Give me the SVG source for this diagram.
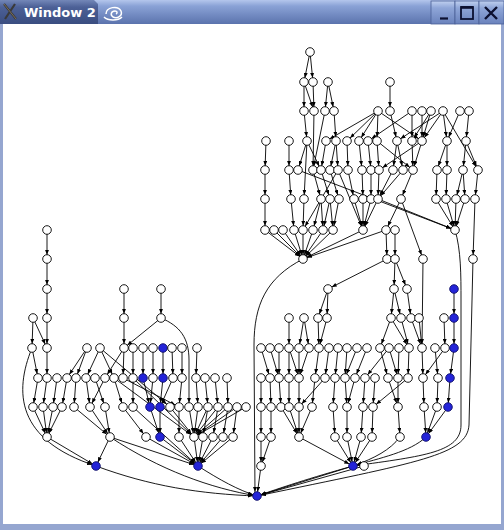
<svg xmlns="http://www.w3.org/2000/svg" width="504" height="530" viewBox="0 0 504 530">
<defs>
<linearGradient id="tb" x1="0" y1="0" x2="0" y2="1">
<stop offset="0" stop-color="#b4c6ec"/><stop offset="0.25" stop-color="#8aa2d6"/><stop offset="1" stop-color="#5b73ad"/>
</linearGradient>
<linearGradient id="tab" x1="0" y1="0" x2="0" y2="1">
<stop offset="0" stop-color="#7387b8"/><stop offset="0.3" stop-color="#4c6096"/><stop offset="1" stop-color="#3a4d80"/>
</linearGradient>
<linearGradient id="btn" x1="0" y1="0" x2="0" y2="1">
<stop offset="0" stop-color="#c0d0f0"/><stop offset="0.3" stop-color="#8fa6d8"/><stop offset="1" stop-color="#6a82bc"/>
</linearGradient>
<marker id="a" markerWidth="5" markerHeight="4" refX="9.2" refY="2" orient="auto" markerUnits="userSpaceOnUse"><path d="M0,0 L5,2 L0,4 z" fill="#000"/></marker>
<style>
.edges line,.edges path{stroke:#000;stroke-width:0.9;fill:none;marker-end:url(#a)}
.nodes circle{fill:#fff;stroke:#000;stroke-width:0.9}
.nodes circle.b{fill:#2424d8;stroke:#10106a}
.ttl{font-family:"DejaVu Sans",sans-serif;font-weight:bold;font-size:13px;fill:#fff}
</style>
</defs>
<rect x="0" y="0" width="504" height="530" fill="#95a6d0"/>
<rect x="3" y="24" width="498" height="500" fill="#fff"/>
<g id="titlebar">
<rect x="0" y="0" width="504" height="24" fill="url(#tb)"/>
<path d="M0,0 H94 L98,4 V24 H0 Z" fill="url(#tab)"/>
<path d="M4,4 L16,19 M15,4 L5,19" stroke="#3a3a3a" stroke-width="2.2"/>
<path d="M4,4 L16,19" stroke="#8a7a60" stroke-width="0.8"/>
<text class="ttl" x="24" y="17">Window 2</text>
<g fill="none" stroke="#fff" stroke-width="1.5">
<path d="M106,14 C106,7 118,5 121,11 C123,16 117,19 113,17 C110,15 111,11 115,11 C117,11 118,13 116,14"/>
<path d="M104,17 C108,21 118,21 122,17"/>
</g>
<rect x="431" y="1" width="24" height="23" fill="url(#btn)" stroke="#4a5f96" stroke-width="0.8"/>
<rect x="455" y="1" width="24" height="23" fill="url(#btn)" stroke="#4a5f96" stroke-width="0.8"/>
<rect x="479" y="1" width="25" height="23" fill="url(#btn)" stroke="#4a5f96" stroke-width="0.8"/>
<path d="M440,18.5 H448" stroke="#0c1030" stroke-width="2.2"/>
<rect x="461" y="7" width="12" height="12" fill="none" stroke="#0c1030" stroke-width="1.8"/>
<path d="M461,7.5 H473" stroke="#0c1030" stroke-width="2.6"/>
<path d="M485,7 L497,19 M497,7 L485,19" stroke="#0c1030" stroke-width="2.4"/>
</g>
<g id="connectors" class="edges">
<line x1="310" y1="52" x2="304" y2="82"/><line x1="310" y1="52" x2="313" y2="82"/>
<line x1="304" y1="82" x2="304" y2="111"/><line x1="304" y1="82" x2="314" y2="111"/><line x1="313" y1="82" x2="314" y2="111"/>
<line x1="328" y1="82" x2="325" y2="111"/><line x1="328" y1="82" x2="334" y2="111"/><line x1="390" y1="82" x2="390" y2="111"/>
<line x1="304" y1="111" x2="307" y2="141"/><line x1="314" y1="111" x2="313" y2="170"/><line x1="325" y1="111" x2="313" y2="170"/><line x1="334" y1="111" x2="336" y2="141"/>
<line x1="378" y1="111" x2="347" y2="141"/><line x1="378" y1="111" x2="359" y2="141"/><line x1="378" y1="111" x2="377" y2="141"/><line x1="378" y1="111" x2="422" y2="141"/><line x1="378" y1="111" x2="326" y2="141"/>
<line x1="390" y1="111" x2="397" y2="141"/><line x1="412" y1="111" x2="412" y2="141"/><line x1="422" y1="111" x2="422" y2="141"/><line x1="431" y1="111" x2="422" y2="141"/><line x1="431" y1="111" x2="412" y2="141"/>
<line x1="443" y1="111" x2="422" y2="141"/><line x1="443" y1="111" x2="447" y2="141"/><line x1="443" y1="111" x2="397" y2="141"/><line x1="412" y1="111" x2="368" y2="141"/>
<line x1="460" y1="111" x2="447" y2="141"/><line x1="469" y1="111" x2="466" y2="141"/><line x1="443" y1="111" x2="478" y2="170"/>
<line x1="266" y1="141" x2="265" y2="170"/><line x1="289" y1="141" x2="289" y2="170"/><line x1="307" y1="141" x2="298" y2="170"/><line x1="307" y1="141" x2="321" y2="170"/>
<line x1="326" y1="141" x2="321" y2="170"/><line x1="336" y1="141" x2="330" y2="170"/><line x1="336" y1="141" x2="338" y2="170"/><line x1="347" y1="141" x2="348" y2="170"/>
<line x1="359" y1="141" x2="362" y2="170"/><line x1="368" y1="141" x2="371" y2="170"/><line x1="377" y1="141" x2="379" y2="170"/><line x1="397" y1="141" x2="393" y2="170"/><line x1="397" y1="141" x2="403" y2="170"/>
<line x1="412" y1="141" x2="413" y2="170"/><line x1="422" y1="141" x2="413" y2="170"/><line x1="422" y1="141" x2="379" y2="170"/><line x1="447" y1="141" x2="437" y2="170"/><line x1="447" y1="141" x2="447" y2="170"/>
<line x1="466" y1="141" x2="463" y2="170"/><line x1="466" y1="141" x2="478" y2="170"/><line x1="377" y1="141" x2="413" y2="170"/>
<line x1="298" y1="170" x2="455" y2="230"/><line x1="307" y1="141" x2="304" y2="199"/>
<line x1="265" y1="170" x2="265" y2="199"/><line x1="289" y1="170" x2="291" y2="199"/><line x1="313" y1="170" x2="321" y2="199"/><line x1="321" y1="170" x2="330" y2="199"/>
<line x1="330" y1="170" x2="339" y2="199"/><line x1="338" y1="170" x2="363" y2="230"/><line x1="348" y1="170" x2="354" y2="199"/><line x1="362" y1="170" x2="363" y2="199"/>
<line x1="371" y1="170" x2="371" y2="199"/><line x1="379" y1="170" x2="378" y2="199"/><line x1="393" y1="170" x2="378" y2="199"/><line x1="403" y1="170" x2="378" y2="199"/><line x1="413" y1="170" x2="401" y2="199"/>
<line x1="437" y1="170" x2="436" y2="199"/><line x1="447" y1="170" x2="446" y2="199"/><line x1="463" y1="170" x2="456" y2="199"/><line x1="463" y1="170" x2="465" y2="199"/><line x1="478" y1="170" x2="475" y2="199"/>
<line x1="378" y1="199" x2="455" y2="230"/><line x1="338" y1="170" x2="303" y2="230"/>
<line x1="265" y1="199" x2="265" y2="230"/><line x1="291" y1="199" x2="294" y2="230"/><line x1="304" y1="199" x2="303" y2="230"/><line x1="321" y1="199" x2="313" y2="230"/><line x1="321" y1="199" x2="323" y2="230"/>
<line x1="330" y1="199" x2="323" y2="230"/><line x1="330" y1="199" x2="333" y2="230"/><line x1="339" y1="199" x2="333" y2="230"/><line x1="354" y1="199" x2="363" y2="230"/><line x1="363" y1="199" x2="363" y2="230"/>
<line x1="371" y1="199" x2="363" y2="230"/><line x1="378" y1="199" x2="363" y2="230"/><line x1="401" y1="199" x2="386" y2="230"/><line x1="401" y1="199" x2="423" y2="259"/>
<line x1="436" y1="199" x2="455" y2="230"/><line x1="446" y1="199" x2="455" y2="230"/><line x1="456" y1="199" x2="455" y2="230"/><line x1="465" y1="199" x2="455" y2="230"/><line x1="475" y1="199" x2="473" y2="259"/>
<line x1="265" y1="230" x2="303" y2="259"/><line x1="274" y1="230" x2="303" y2="259"/><line x1="283" y1="230" x2="303" y2="259"/><line x1="294" y1="230" x2="303" y2="259"/><line x1="303" y1="230" x2="303" y2="259"/>
<line x1="313" y1="230" x2="303" y2="259"/><line x1="323" y1="230" x2="303" y2="259"/><line x1="333" y1="230" x2="303" y2="259"/><line x1="363" y1="230" x2="303" y2="259"/><line x1="386" y1="230" x2="303" y2="259"/>
<line x1="386" y1="230" x2="387" y2="259"/><line x1="395" y1="230" x2="395" y2="259"/>
<path d="M303,259 C266,278 254,305 254,345 L255,496"/>
<path d="M473,259 L469,425 C467,455 420,462 257,496"/>
<path d="M455,230 C461,250 461,275 461,300 L461,425 C461,452 425,456 353,466"/>
<line x1="423" y1="259" x2="422" y2="348"/>
<line x1="387" y1="259" x2="328" y2="289"/><line x1="395" y1="259" x2="394" y2="289"/><line x1="395" y1="259" x2="407" y2="289"/>
<line x1="328" y1="289" x2="318" y2="318"/><line x1="328" y1="289" x2="327" y2="318"/><line x1="394" y1="289" x2="391" y2="318"/><line x1="394" y1="289" x2="401" y2="318"/><line x1="407" y1="289" x2="411" y2="318"/><line x1="454" y1="289" x2="454" y2="318"/>
<line x1="289" y1="318" x2="289" y2="348"/><line x1="304" y1="318" x2="299" y2="348"/><line x1="304" y1="318" x2="309" y2="348"/><line x1="318" y1="318" x2="319" y2="348"/><line x1="327" y1="318" x2="319" y2="348"/>
<line x1="391" y1="318" x2="380" y2="348"/><line x1="391" y1="318" x2="409" y2="348"/><line x1="401" y1="318" x2="409" y2="348"/><line x1="411" y1="318" x2="422" y2="348"/><line x1="419" y1="318" x2="422" y2="348"/>
<line x1="444" y1="318" x2="445" y2="348"/><line x1="454" y1="318" x2="454" y2="348"/>
<line x1="261" y1="348" x2="270" y2="378"/><line x1="270" y1="348" x2="279" y2="378"/><line x1="279" y1="348" x2="279" y2="378"/><line x1="289" y1="348" x2="289" y2="378"/><line x1="289" y1="348" x2="299" y2="378"/>
<line x1="299" y1="348" x2="299" y2="378"/><line x1="309" y1="348" x2="299" y2="378"/><line x1="319" y1="348" x2="315" y2="378"/><line x1="329" y1="348" x2="325" y2="378"/><line x1="338" y1="348" x2="335" y2="378"/>
<line x1="347" y1="348" x2="345" y2="378"/><line x1="357" y1="348" x2="345" y2="378"/><line x1="367" y1="348" x2="355" y2="378"/><line x1="380" y1="348" x2="388" y2="378"/><line x1="389" y1="348" x2="398" y2="378"/>
<line x1="399" y1="348" x2="398" y2="378"/><line x1="409" y1="348" x2="408" y2="378"/><line x1="422" y1="348" x2="423" y2="378"/><line x1="435" y1="348" x2="438" y2="378"/><line x1="445" y1="348" x2="423" y2="378"/><line x1="454" y1="348" x2="450" y2="378"/>
<line x1="389" y1="348" x2="365" y2="378"/>
<line x1="261" y1="378" x2="261" y2="407"/><line x1="270" y1="378" x2="271" y2="407"/><line x1="279" y1="378" x2="281" y2="407"/><line x1="289" y1="378" x2="289" y2="407"/><line x1="299" y1="378" x2="299" y2="407"/>
<line x1="315" y1="378" x2="312" y2="407"/><line x1="325" y1="378" x2="299" y2="407"/><line x1="335" y1="378" x2="333" y2="407"/><line x1="345" y1="378" x2="347" y2="407"/><line x1="355" y1="378" x2="347" y2="407"/>
<line x1="365" y1="378" x2="363" y2="407"/><line x1="375" y1="378" x2="373" y2="407"/><line x1="388" y1="378" x2="398" y2="407"/><line x1="398" y1="378" x2="398" y2="407"/><line x1="408" y1="378" x2="373" y2="407"/>
<line x1="423" y1="378" x2="424" y2="407"/><line x1="438" y1="378" x2="437" y2="407"/><line x1="450" y1="378" x2="448" y2="407"/>
<line x1="261" y1="407" x2="261" y2="437"/><line x1="271" y1="407" x2="271" y2="437"/><line x1="281" y1="407" x2="299" y2="437"/><line x1="289" y1="407" x2="299" y2="437"/><line x1="299" y1="407" x2="299" y2="437"/><line x1="312" y1="407" x2="299" y2="437"/>
<line x1="333" y1="407" x2="335" y2="437"/><line x1="347" y1="407" x2="347" y2="437"/><line x1="363" y1="407" x2="361" y2="437"/><line x1="373" y1="407" x2="372" y2="437"/><line x1="398" y1="407" x2="400" y2="437"/>
<line x1="424" y1="407" x2="426" y2="437"/><line x1="437" y1="407" x2="426" y2="437"/><line x1="448" y1="407" x2="426" y2="437"/>
<line x1="261" y1="437" x2="261" y2="466"/><line x1="271" y1="437" x2="261" y2="466"/>
<line x1="299" y1="437" x2="353" y2="466"/><line x1="335" y1="437" x2="353" y2="466"/><line x1="347" y1="437" x2="353" y2="466"/><line x1="361" y1="437" x2="353" y2="466"/><line x1="372" y1="437" x2="353" y2="466"/>
<path d="M400,437 C390,450 375,458 353,466"/><path d="M426,437 C410,452 380,458 353,466"/>
<line x1="261" y1="466" x2="257" y2="496"/><line x1="353" y1="466" x2="257" y2="496"/><path d="M353,466 C310,478 280,488 257,496"/><line x1="364" y1="466" x2="257" y2="496"/>
<line x1="47" y1="230" x2="47" y2="259"/><line x1="47" y1="259" x2="47" y2="289"/><line x1="47" y1="289" x2="47" y2="318"/><line x1="47" y1="318" x2="47" y2="348"/>
<line x1="33" y1="318" x2="32" y2="348"/><line x1="33" y1="318" x2="47" y2="348"/>
<line x1="124" y1="289" x2="124" y2="318"/><line x1="124" y1="318" x2="124" y2="348"/><line x1="161" y1="289" x2="161" y2="318"/><line x1="161" y1="318" x2="124" y2="348"/>
<path d="M161,318 C180,326 189,338 189,360 L189,407"/>
<path d="M32,348 C14,392 16,440 96,466"/>
<line x1="32" y1="348" x2="38" y2="378"/><line x1="47" y1="348" x2="47" y2="378"/><line x1="87" y1="348" x2="76" y2="378"/><line x1="100" y1="348" x2="86" y2="378"/><line x1="100" y1="348" x2="114" y2="378"/>
<line x1="100" y1="348" x2="170" y2="407"/><line x1="124" y1="348" x2="123" y2="378"/><line x1="124" y1="348" x2="105" y2="378"/><line x1="133" y1="348" x2="133" y2="378"/><line x1="143" y1="348" x2="143" y2="378"/>
<line x1="153" y1="348" x2="153" y2="378"/><line x1="163" y1="348" x2="163" y2="378"/><line x1="172" y1="348" x2="173" y2="378"/><line x1="182" y1="348" x2="182" y2="378"/><line x1="197" y1="348" x2="196" y2="378"/><line x1="87" y1="348" x2="67" y2="378"/>
<line x1="38" y1="378" x2="33" y2="407"/><line x1="47" y1="378" x2="43" y2="407"/><line x1="57" y1="378" x2="53" y2="407"/><line x1="67" y1="378" x2="62" y2="407"/><line x1="76" y1="378" x2="74" y2="407"/>
<line x1="86" y1="378" x2="90" y2="407"/><line x1="105" y1="378" x2="90" y2="407"/><line x1="95" y1="378" x2="105" y2="407"/><line x1="114" y1="378" x2="123" y2="407"/><line x1="133" y1="378" x2="133" y2="407"/>
<line x1="143" y1="378" x2="150" y2="407"/><line x1="153" y1="378" x2="150" y2="407"/><line x1="163" y1="378" x2="160" y2="407"/><line x1="173" y1="378" x2="160" y2="407"/><line x1="182" y1="378" x2="179" y2="407"/>
<line x1="196" y1="378" x2="198" y2="407"/><line x1="205" y1="378" x2="208" y2="407"/><line x1="215" y1="378" x2="218" y2="407"/><line x1="227" y1="378" x2="228" y2="407"/>
<line x1="114" y1="378" x2="194" y2="437"/><line x1="133" y1="378" x2="194" y2="437"/><line x1="123" y1="378" x2="179" y2="407"/>
<line x1="33" y1="407" x2="47" y2="437"/><line x1="43" y1="407" x2="47" y2="437"/><line x1="53" y1="407" x2="47" y2="437"/><line x1="62" y1="407" x2="47" y2="437"/>
<line x1="74" y1="407" x2="110" y2="437"/><line x1="90" y1="407" x2="110" y2="437"/><line x1="105" y1="407" x2="110" y2="437"/><line x1="123" y1="407" x2="146" y2="437"/>
<line x1="150" y1="407" x2="160" y2="437"/><line x1="160" y1="407" x2="160" y2="437"/><line x1="179" y1="407" x2="179" y2="437"/>
<line x1="170" y1="407" x2="194" y2="437"/><line x1="189" y1="407" x2="194" y2="437"/><line x1="198" y1="407" x2="194" y2="437"/><line x1="208" y1="407" x2="194" y2="437"/><line x1="218" y1="407" x2="194" y2="437"/>
<line x1="228" y1="407" x2="194" y2="437"/><line x1="237" y1="407" x2="194" y2="437"/><line x1="246" y1="407" x2="194" y2="437"/>
<line x1="208" y1="407" x2="203" y2="437"/><line x1="218" y1="407" x2="213" y2="437"/><line x1="228" y1="407" x2="223" y2="437"/><line x1="237" y1="407" x2="233" y2="437"/>
<line x1="133" y1="407" x2="198" y2="466"/>
<line x1="47" y1="437" x2="96" y2="466"/><line x1="110" y1="437" x2="96" y2="466"/><line x1="110" y1="437" x2="198" y2="466"/>
<line x1="146" y1="437" x2="198" y2="466"/><line x1="160" y1="437" x2="198" y2="466"/><line x1="179" y1="437" x2="198" y2="466"/><line x1="194" y1="437" x2="198" y2="466"/><line x1="203" y1="437" x2="198" y2="466"/>
<line x1="213" y1="437" x2="198" y2="466"/><line x1="223" y1="437" x2="198" y2="466"/><line x1="233" y1="437" x2="198" y2="466"/>
<path d="M96,466 C150,486 200,494 257,496"/>
<path d="M198,466 C220,480 238,490 257,496"/>
<path d="M110,437 C160,470 210,488 257,496"/>
</g>
<g class="nodes">
<g id="t01"><circle cx="310" cy="52" r="4.3"/></g>
<g id="t02"><circle cx="304" cy="82" r="4.3"/></g>
<g id="t03"><circle cx="313" cy="82" r="4.3"/></g>
<g id="t04"><circle cx="328" cy="82" r="4.3"/></g>
<g id="t05"><circle cx="390" cy="82" r="4.3"/></g>
<g id="t06"><circle cx="304" cy="111" r="4.3"/></g>
<g id="t07"><circle cx="314" cy="111" r="4.3"/></g>
<g id="t08"><circle cx="325" cy="111" r="4.3"/></g>
<g id="t09"><circle cx="334" cy="111" r="4.3"/></g>
<g id="t10"><circle cx="378" cy="111" r="4.3"/></g>
<g id="t11"><circle cx="390" cy="111" r="4.3"/></g>
<g id="t12"><circle cx="412" cy="111" r="4.3"/></g>
<g id="t13"><circle cx="422" cy="111" r="4.3"/></g>
<g id="t14"><circle cx="431" cy="111" r="4.3"/></g>
<g id="t15"><circle cx="443" cy="111" r="4.3"/></g>
<g id="t16"><circle cx="460" cy="111" r="4.3"/></g>
<g id="t17"><circle cx="469" cy="111" r="4.3"/></g>
<g id="t18"><circle cx="266" cy="141" r="4.3"/></g>
<g id="t19"><circle cx="289" cy="141" r="4.3"/></g>
<g id="t20"><circle cx="307" cy="141" r="4.3"/></g>
<g id="t21"><circle cx="326" cy="141" r="4.3"/></g>
<g id="t22"><circle cx="336" cy="141" r="4.3"/></g>
<g id="t23"><circle cx="347" cy="141" r="4.3"/></g>
<g id="t24"><circle cx="359" cy="141" r="4.3"/></g>
<g id="t25"><circle cx="368" cy="141" r="4.3"/></g>
<g id="t26"><circle cx="377" cy="141" r="4.3"/></g>
<g id="t27"><circle cx="397" cy="141" r="4.3"/></g>
<g id="t28"><circle cx="412" cy="141" r="4.3"/></g>
<g id="t29"><circle cx="422" cy="141" r="4.3"/></g>
<g id="t30"><circle cx="447" cy="141" r="4.3"/></g>
<g id="t31"><circle cx="466" cy="141" r="4.3"/></g>
<g id="t32"><circle cx="265" cy="170" r="4.3"/></g>
<g id="t33"><circle cx="289" cy="170" r="4.3"/></g>
<g id="t34"><circle cx="298" cy="170" r="4.3"/></g>
<g id="t35"><circle cx="313" cy="170" r="4.3"/></g>
<g id="t36"><circle cx="321" cy="170" r="4.3"/></g>
<g id="t37"><circle cx="330" cy="170" r="4.3"/></g>
<g id="t38"><circle cx="338" cy="170" r="4.3"/></g>
<g id="t39"><circle cx="348" cy="170" r="4.3"/></g>
<g id="t40"><circle cx="362" cy="170" r="4.3"/></g>
<g id="t41"><circle cx="371" cy="170" r="4.3"/></g>
<g id="t42"><circle cx="379" cy="170" r="4.3"/></g>
<g id="t43"><circle cx="393" cy="170" r="4.3"/></g>
<g id="t44"><circle cx="403" cy="170" r="4.3"/></g>
<g id="t45"><circle cx="413" cy="170" r="4.3"/></g>
<g id="t46"><circle cx="437" cy="170" r="4.3"/></g>
<g id="t47"><circle cx="447" cy="170" r="4.3"/></g>
<g id="t48"><circle cx="463" cy="170" r="4.3"/></g>
<g id="t49"><circle cx="478" cy="170" r="4.3"/></g>
<g id="t50"><circle cx="265" cy="199" r="4.3"/></g>
<g id="t51"><circle cx="291" cy="199" r="4.3"/></g>
<g id="t52"><circle cx="304" cy="199" r="4.3"/></g>
<g id="t53"><circle cx="321" cy="199" r="4.3"/></g>
<g id="t54"><circle cx="330" cy="199" r="4.3"/></g>
<g id="t55"><circle cx="339" cy="199" r="4.3"/></g>
<g id="t56"><circle cx="354" cy="199" r="4.3"/></g>
<g id="t57"><circle cx="363" cy="199" r="4.3"/></g>
<g id="t58"><circle cx="371" cy="199" r="4.3"/></g>
<g id="t59"><circle cx="378" cy="199" r="4.3"/></g>
<g id="t60"><circle cx="401" cy="199" r="4.3"/></g>
<g id="t61"><circle cx="436" cy="199" r="4.3"/></g>
<g id="t62"><circle cx="446" cy="199" r="4.3"/></g>
<g id="t63"><circle cx="456" cy="199" r="4.3"/></g>
<g id="t64"><circle cx="465" cy="199" r="4.3"/></g>
<g id="t65"><circle cx="475" cy="199" r="4.3"/></g>
<g id="t66"><circle cx="265" cy="230" r="4.3"/></g>
<g id="t67"><circle cx="274" cy="230" r="4.3"/></g>
<g id="t68"><circle cx="283" cy="230" r="4.3"/></g>
<g id="t69"><circle cx="294" cy="230" r="4.3"/></g>
<g id="t70"><circle cx="303" cy="230" r="4.3"/></g>
<g id="t71"><circle cx="313" cy="230" r="4.3"/></g>
<g id="t72"><circle cx="323" cy="230" r="4.3"/></g>
<g id="t73"><circle cx="333" cy="230" r="4.3"/></g>
<g id="t74"><circle cx="363" cy="230" r="4.3"/></g>
<g id="t75"><circle cx="386" cy="230" r="4.3"/></g>
<g id="t76"><circle cx="395" cy="230" r="4.3"/></g>
<g id="t77"><circle cx="455" cy="230" r="4.3"/></g>
<g id="t78"><circle cx="303" cy="259" r="4.3"/></g>
<g id="t79"><circle cx="387" cy="259" r="4.3"/></g>
<g id="t80"><circle cx="395" cy="259" r="4.3"/></g>
<g id="t81"><circle cx="423" cy="259" r="4.3"/></g>
<g id="t82"><circle cx="473" cy="259" r="4.3"/></g>
<g id="m01"><circle cx="328" cy="289" r="4.3"/></g>
<g id="m02"><circle cx="394" cy="289" r="4.3"/></g>
<g id="m03"><circle cx="407" cy="289" r="4.3"/></g>
<g id="m04"><circle class="b" cx="454" cy="289" r="4.3"/></g>
<g id="m05"><circle cx="289" cy="318" r="4.3"/></g>
<g id="m06"><circle cx="304" cy="318" r="4.3"/></g>
<g id="m07"><circle cx="318" cy="318" r="4.3"/></g>
<g id="m08"><circle cx="327" cy="318" r="4.3"/></g>
<g id="m09"><circle cx="391" cy="318" r="4.3"/></g>
<g id="m10"><circle cx="401" cy="318" r="4.3"/></g>
<g id="m11"><circle cx="411" cy="318" r="4.3"/></g>
<g id="m12"><circle cx="419" cy="318" r="4.3"/></g>
<g id="m13"><circle cx="444" cy="318" r="4.3"/></g>
<g id="m14"><circle class="b" cx="454" cy="318" r="4.3"/></g>
<g id="m15"><circle cx="261" cy="348" r="4.3"/></g>
<g id="m16"><circle cx="270" cy="348" r="4.3"/></g>
<g id="m17"><circle cx="279" cy="348" r="4.3"/></g>
<g id="m18"><circle cx="289" cy="348" r="4.3"/></g>
<g id="m19"><circle cx="299" cy="348" r="4.3"/></g>
<g id="m20"><circle cx="309" cy="348" r="4.3"/></g>
<g id="m21"><circle cx="319" cy="348" r="4.3"/></g>
<g id="m22"><circle cx="329" cy="348" r="4.3"/></g>
<g id="m23"><circle cx="338" cy="348" r="4.3"/></g>
<g id="m24"><circle cx="347" cy="348" r="4.3"/></g>
<g id="m25"><circle cx="357" cy="348" r="4.3"/></g>
<g id="m26"><circle cx="367" cy="348" r="4.3"/></g>
<g id="m27"><circle cx="380" cy="348" r="4.3"/></g>
<g id="m28"><circle cx="389" cy="348" r="4.3"/></g>
<g id="m29"><circle cx="399" cy="348" r="4.3"/></g>
<g id="m30"><circle cx="409" cy="348" r="4.3"/></g>
<g id="m31"><circle cx="422" cy="348" r="4.3"/></g>
<g id="m32"><circle cx="435" cy="348" r="4.3"/></g>
<g id="m33"><circle cx="445" cy="348" r="4.3"/></g>
<g id="m34"><circle class="b" cx="454" cy="348" r="4.3"/></g>
<g id="m35"><circle cx="261" cy="378" r="4.3"/></g>
<g id="m36"><circle cx="270" cy="378" r="4.3"/></g>
<g id="m37"><circle cx="279" cy="378" r="4.3"/></g>
<g id="m38"><circle cx="289" cy="378" r="4.3"/></g>
<g id="m39"><circle cx="299" cy="378" r="4.3"/></g>
<g id="m40"><circle cx="315" cy="378" r="4.3"/></g>
<g id="m41"><circle cx="325" cy="378" r="4.3"/></g>
<g id="m42"><circle cx="335" cy="378" r="4.3"/></g>
<g id="m43"><circle cx="345" cy="378" r="4.3"/></g>
<g id="m44"><circle cx="355" cy="378" r="4.3"/></g>
<g id="m45"><circle cx="365" cy="378" r="4.3"/></g>
<g id="m46"><circle cx="375" cy="378" r="4.3"/></g>
<g id="m47"><circle cx="388" cy="378" r="4.3"/></g>
<g id="m48"><circle cx="398" cy="378" r="4.3"/></g>
<g id="m49"><circle cx="408" cy="378" r="4.3"/></g>
<g id="m50"><circle cx="423" cy="378" r="4.3"/></g>
<g id="m51"><circle cx="438" cy="378" r="4.3"/></g>
<g id="m52"><circle class="b" cx="450" cy="378" r="4.3"/></g>
<g id="m53"><circle cx="261" cy="407" r="4.3"/></g>
<g id="m54"><circle cx="271" cy="407" r="4.3"/></g>
<g id="m55"><circle cx="281" cy="407" r="4.3"/></g>
<g id="m56"><circle cx="289" cy="407" r="4.3"/></g>
<g id="m57"><circle cx="299" cy="407" r="4.3"/></g>
<g id="m58"><circle cx="312" cy="407" r="4.3"/></g>
<g id="m59"><circle cx="333" cy="407" r="4.3"/></g>
<g id="m60"><circle cx="347" cy="407" r="4.3"/></g>
<g id="m61"><circle cx="363" cy="407" r="4.3"/></g>
<g id="m62"><circle cx="373" cy="407" r="4.3"/></g>
<g id="m63"><circle cx="398" cy="407" r="4.3"/></g>
<g id="m64"><circle cx="424" cy="407" r="4.3"/></g>
<g id="m65"><circle cx="437" cy="407" r="4.3"/></g>
<g id="m66"><circle class="b" cx="448" cy="407" r="4.3"/></g>
<g id="m67"><circle cx="261" cy="437" r="4.3"/></g>
<g id="m68"><circle cx="271" cy="437" r="4.3"/></g>
<g id="m69"><circle cx="299" cy="437" r="4.3"/></g>
<g id="m70"><circle cx="335" cy="437" r="4.3"/></g>
<g id="m71"><circle cx="347" cy="437" r="4.3"/></g>
<g id="m72"><circle cx="361" cy="437" r="4.3"/></g>
<g id="m73"><circle cx="372" cy="437" r="4.3"/></g>
<g id="m74"><circle cx="400" cy="437" r="4.3"/></g>
<g id="m75"><circle class="b" cx="426" cy="437" r="4.3"/></g>
<g id="m76"><circle cx="261" cy="466" r="4.3"/></g>
<g id="m77"><circle class="b" cx="353" cy="466" r="4.3"/></g>
<g id="m78"><circle cx="364" cy="466" r="4.3"/></g>
<g id="m79"><circle class="b" cx="257" cy="496" r="4.3"/></g>
<g id="l01"><circle cx="47" cy="230" r="4.3"/></g>
<g id="l02"><circle cx="47" cy="259" r="4.3"/></g>
<g id="l03"><circle cx="47" cy="289" r="4.3"/></g>
<g id="l04"><circle cx="124" cy="289" r="4.3"/></g>
<g id="l05"><circle cx="161" cy="289" r="4.3"/></g>
<g id="l06"><circle cx="33" cy="318" r="4.3"/></g>
<g id="l07"><circle cx="47" cy="318" r="4.3"/></g>
<g id="l08"><circle cx="124" cy="318" r="4.3"/></g>
<g id="l09"><circle cx="161" cy="318" r="4.3"/></g>
<g id="l10"><circle cx="32" cy="348" r="4.3"/></g>
<g id="l11"><circle cx="47" cy="348" r="4.3"/></g>
<g id="l12"><circle cx="87" cy="348" r="4.3"/></g>
<g id="l13"><circle cx="100" cy="348" r="4.3"/></g>
<g id="l14"><circle cx="124" cy="348" r="4.3"/></g>
<g id="l15"><circle cx="133" cy="348" r="4.3"/></g>
<g id="l16"><circle cx="143" cy="348" r="4.3"/></g>
<g id="l17"><circle cx="153" cy="348" r="4.3"/></g>
<g id="l18"><circle class="b" cx="163" cy="348" r="4.3"/></g>
<g id="l19"><circle cx="172" cy="348" r="4.3"/></g>
<g id="l20"><circle cx="182" cy="348" r="4.3"/></g>
<g id="l21"><circle cx="197" cy="348" r="4.3"/></g>
<g id="l22"><circle cx="38" cy="378" r="4.3"/></g>
<g id="l23"><circle cx="47" cy="378" r="4.3"/></g>
<g id="l24"><circle cx="57" cy="378" r="4.3"/></g>
<g id="l25"><circle cx="67" cy="378" r="4.3"/></g>
<g id="l26"><circle cx="76" cy="378" r="4.3"/></g>
<g id="l27"><circle cx="86" cy="378" r="4.3"/></g>
<g id="l28"><circle cx="95" cy="378" r="4.3"/></g>
<g id="l29"><circle cx="105" cy="378" r="4.3"/></g>
<g id="l30"><circle cx="114" cy="378" r="4.3"/></g>
<g id="l31"><circle cx="123" cy="378" r="4.3"/></g>
<g id="l32"><circle cx="133" cy="378" r="4.3"/></g>
<g id="l33"><circle class="b" cx="143" cy="378" r="4.3"/></g>
<g id="l34"><circle cx="153" cy="378" r="4.3"/></g>
<g id="l35"><circle class="b" cx="163" cy="378" r="4.3"/></g>
<g id="l36"><circle cx="173" cy="378" r="4.3"/></g>
<g id="l37"><circle cx="182" cy="378" r="4.3"/></g>
<g id="l38"><circle cx="196" cy="378" r="4.3"/></g>
<g id="l39"><circle cx="205" cy="378" r="4.3"/></g>
<g id="l40"><circle cx="215" cy="378" r="4.3"/></g>
<g id="l41"><circle cx="227" cy="378" r="4.3"/></g>
<g id="l42"><circle cx="33" cy="407" r="4.3"/></g>
<g id="l43"><circle cx="43" cy="407" r="4.3"/></g>
<g id="l44"><circle cx="53" cy="407" r="4.3"/></g>
<g id="l45"><circle cx="62" cy="407" r="4.3"/></g>
<g id="l46"><circle cx="74" cy="407" r="4.3"/></g>
<g id="l47"><circle cx="90" cy="407" r="4.3"/></g>
<g id="l48"><circle cx="105" cy="407" r="4.3"/></g>
<g id="l49"><circle cx="123" cy="407" r="4.3"/></g>
<g id="l50"><circle cx="133" cy="407" r="4.3"/></g>
<g id="l51"><circle class="b" cx="150" cy="407" r="4.3"/></g>
<g id="l52"><circle class="b" cx="160" cy="407" r="4.3"/></g>
<g id="l53"><circle cx="170" cy="407" r="4.3"/></g>
<g id="l54"><circle cx="179" cy="407" r="4.3"/></g>
<g id="l55"><circle cx="189" cy="407" r="4.3"/></g>
<g id="l56"><circle cx="198" cy="407" r="4.3"/></g>
<g id="l57"><circle cx="208" cy="407" r="4.3"/></g>
<g id="l58"><circle cx="218" cy="407" r="4.3"/></g>
<g id="l59"><circle cx="228" cy="407" r="4.3"/></g>
<g id="l60"><circle cx="237" cy="407" r="4.3"/></g>
<g id="l61"><circle cx="246" cy="407" r="4.3"/></g>
<g id="l62"><circle cx="47" cy="437" r="4.3"/></g>
<g id="l63"><circle cx="110" cy="437" r="4.3"/></g>
<g id="l64"><circle cx="146" cy="437" r="4.3"/></g>
<g id="l65"><circle class="b" cx="160" cy="437" r="4.3"/></g>
<g id="l66"><circle cx="179" cy="437" r="4.3"/></g>
<g id="l67"><circle cx="194" cy="437" r="4.3"/></g>
<g id="l68"><circle cx="203" cy="437" r="4.3"/></g>
<g id="l69"><circle cx="213" cy="437" r="4.3"/></g>
<g id="l70"><circle cx="223" cy="437" r="4.3"/></g>
<g id="l71"><circle cx="233" cy="437" r="4.3"/></g>
<g id="l72"><circle class="b" cx="96" cy="466" r="4.3"/></g>
<g id="l73"><circle class="b" cx="198" cy="466" r="4.3"/></g>
</g>
</svg>
